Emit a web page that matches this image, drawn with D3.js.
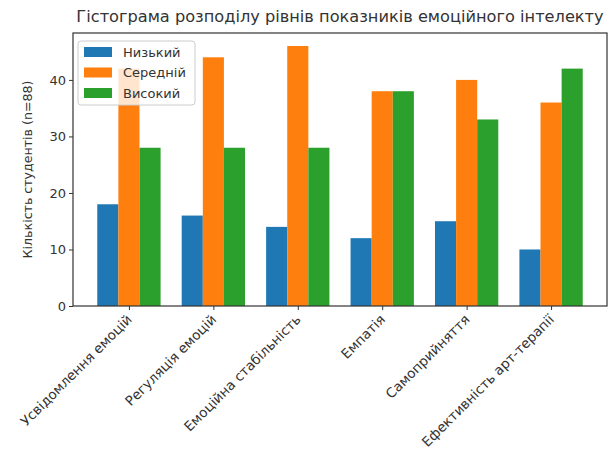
<!DOCTYPE html>
<html>
<head>
<meta charset="utf-8">
<script src="https://cdn.jsdelivr.net/npm/d3@7"></script>
<style>
  body { margin: 0; background: #fff; }
  text { font-family: "DejaVu Sans", sans-serif; fill: #333; }
</style>
</head>
<body>
<div class="container"></div>
<script>
var categories = ["Усвідомлення емоцій", "Регуляція емоцій", "Емоційна стабільність", "Емпатія", "Самоприйняття", "Ефективність арт-терапії"];
var seriesNames = ["Низький", "Середній", "Високий"];
var low = [18, 16, 14, 12, 15, 10];
var mid = [42, 44, 46, 38, 40, 36];
var high = [28, 28, 28, 38, 33, 42];
var yTicks = [0, 10, 20, 30, 40];
var colors = ["#1f77b4", "#ff7f0e", "#2ca02c"];

var series = [low, mid, high];

var margin = { top: 33, right: 4, bottom: 148, left: 73 };
var width = 607 - margin.left;
var height = 306 - margin.top;

var svg = d3.select(".container")
    .append("svg")
    .attr("width", 611)
    .attr("height", 454)
    .append("g")
    .attr("transform", "translate(" + margin.left + "," + margin.top + ")");

// x as a linear index scale, like matplotlib's bar positions
var x = d3.scaleLinear()
    .domain([-0.6625, categories.length - 1 + 0.6625])
    .range([0, width]);
var barW = 0.25;

var y = d3.scaleLinear()
    .domain([0, 48.3])
    .range([height, 0]);

series.forEach(function(vals, si) {
    svg.selectAll(".bar" + si)
        .data(vals)
        .enter()
        .append("rect")
        .attr("class", "bar" + si)
        .attr("x", function(d, i) { return x(i + (si - 1) * barW - barW / 2); })
        .attr("width", x(barW) - x(0))
        .attr("y", function(d) { return y(d); })
        .attr("height", function(d) { return height - y(d); })
        .attr("fill", colors[si]);
});

// frame
svg.append("rect")
    .attr("width", width)
    .attr("height", height)
    .attr("fill", "none")
    .attr("stroke", "#333")
    .attr("stroke-width", 1.2);

var xAxis = svg.append("g")
    .attr("transform", "translate(0," + height + ")")
    .call(d3.axisBottom(x)
        .tickValues(d3.range(categories.length))
        .tickFormat(function(d) { return categories[d]; })
        .tickSize(4).tickSizeOuter(0));
xAxis.select(".domain").remove();
xAxis.selectAll("line").attr("stroke", "#333");
xAxis.selectAll("text")
    .style("font-size", "13.5px")
    .style("text-anchor", "end")
    .attr("y", 0)
    .attr("x", 0)
    .attr("dy", "0.35em")
    .attr("transform", "translate(0,11) rotate(-45)");

var yAxis = svg.append("g")
    .call(d3.axisLeft(y).tickValues(yTicks).tickSize(4).tickSizeOuter(0));
yAxis.select(".domain").remove();
yAxis.selectAll("line").attr("stroke", "#333");
yAxis.selectAll("text").style("font-size", "13px").attr("x", -7);

svg.append("text")
    .attr("transform", "rotate(-90)")
    .attr("x", -height / 2)
    .attr("y", -41)
    .attr("text-anchor", "middle")
    .style("font-size", "12.6px")
    .text("Кількість студентів (n=88)");

svg.append("text")
    .attr("x", width / 2)
    .attr("y", -11)
    .attr("text-anchor", "middle")
    .style("font-size", "16.2px")
    .text("Гістограма розподілу рівнів показників емоційного інтелекту");

// legend
var legend = svg.append("g").attr("transform", "translate(5,8)");
legend.append("rect")
    .attr("width", 117)
    .attr("height", 64)
    .attr("rx", 3)
    .attr("fill", "#fff")
    .attr("fill-opacity", 0.8)
    .attr("stroke", "#ccc");
seriesNames.forEach(function(name, i) {
    legend.append("rect")
        .attr("x", 6)
        .attr("y", 6 + i * 20.5)
        .attr("width", 28)
        .attr("height", 10)
        .attr("fill", colors[i]);
    legend.append("text")
        .attr("x", 45)
        .attr("y", 11 + i * 20.5)
        .attr("dy", "0.35em")
        .style("font-size", "13px")
        .text(name);
});
</script>
</body>
</html>
